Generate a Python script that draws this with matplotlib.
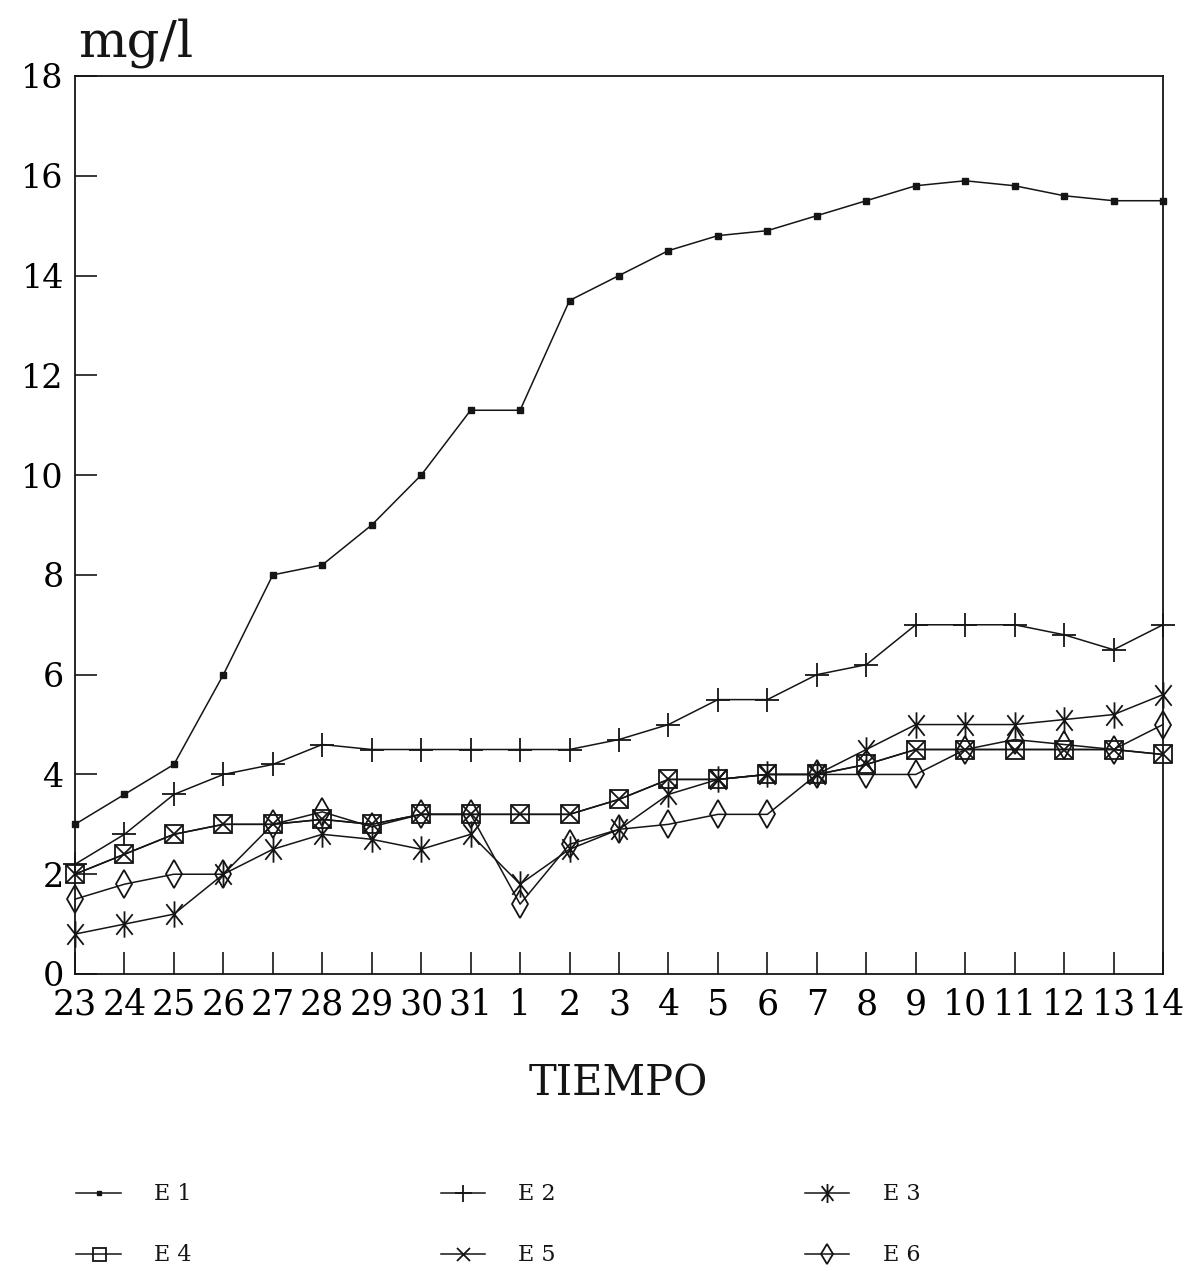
import matplotlib
matplotlib.use("Agg")
import matplotlib.pyplot as plt
from matplotlib.path import Path

categories = ['23', '24', '25', '26', '27', '28', '29', '30', '31', '1', '2', '3',
              '4', '5', '6', '7', '8', '9', '10', '11', '12', '13', '14']

E1 = [3.0, 3.6, 4.2, 6.0, 8.0, 8.2, 9.0, 10.0, 11.3, 11.3, 13.5, 14.0, 14.5,
      14.8, 14.9, 15.2, 15.5, 15.8, 15.9, 15.8, 15.6, 15.5, 15.5]
E2 = [2.2, 2.8, 3.6, 4.0, 4.2, 4.6, 4.5, 4.5, 4.5, 4.5, 4.5, 4.7, 5.0,
      5.5, 5.5, 6.0, 6.2, 7.0, 7.0, 7.0, 6.8, 6.5, 7.0]
E3 = [0.8, 1.0, 1.2, 2.0, 2.5, 2.8, 2.7, 2.5, 2.8, 1.8, 2.5, 2.9, 3.6,
      3.9, 4.0, 4.0, 4.5, 5.0, 5.0, 5.0, 5.1, 5.2, 5.6]
E4 = [2.0, 2.4, 2.8, 3.0, 3.0, 3.1, 3.0, 3.2, 3.2, 3.2, 3.2, 3.5, 3.9,
      3.9, 4.0, 4.0, 4.2, 4.5, 4.5, 4.5, 4.5, 4.5, 4.4]
E5 = [2.0, 2.4, 2.8, 3.0, 3.0, 3.1, 3.0, 3.2, 3.2, 3.2, 3.2, 3.5, 3.9,
      3.9, 4.0, 4.0, 4.2, 4.5, 4.5, 4.5, 4.5, 4.5, 4.4]
E6 = [1.5, 1.8, 2.0, 2.0, 3.0, 3.25, 2.95, 3.2, 3.2, 1.4, 2.6, 2.9, 3.0,
      3.2, 3.2, 4.0, 4.0, 4.0, 4.5, 4.7, 4.6, 4.5, 5.0]

series_labels = ['E 1', 'E 2', 'E 3', 'E 4', 'E 5', 'E 6']
yticks = [0, 2, 4, 6, 8, 10, 12, 14, 16, 18]

serif = ['DejaVu Serif']
ink = '#151515'

# asterisk marker: vertical stroke plus a narrow X
ast = Path([(0, -1), (0, 1), (-0.62, -0.78), (0.62, 0.78), (-0.62, 0.78), (0.62, -0.78)],
           [Path.MOVETO, Path.LINETO, Path.MOVETO, Path.LINETO, Path.MOVETO, Path.LINETO])

styles = [
    dict(marker='s', ms=4.5, mfc=ink, mec=ink),
    dict(marker='+', ms=17, mew=1.3),
    dict(marker=ast, ms=19, mfc='none', mew=1.3),
    dict(marker='s', ms=13, mfc='none', mew=1.3),
    dict(marker='x', ms=13, mew=1.3),
    dict(marker='d', ms=14, mfc='none', mew=1.3),
]

fig = plt.figure(figsize=(11.88, 12.71), dpi=100)
ax = fig.add_axes([75 / 1188, 1 - 974 / 1271, (1163 - 75) / 1188, (974 - 76) / 1271])

x = list(range(len(categories)))
all_series = [E1, E2, E3, E4, E5, E6]
handles = []
for s, lab, st in zip(all_series, series_labels, styles):
    h, = ax.plot(x, s, color=ink, lw=1.1, label=lab, clip_on=False, **st)
    handles.append(h)

ax.set_xlim(0, len(categories) - 1)
ax.set_ylim(0, 18)
ax.set_xticks(x)
ax.set_xticklabels(categories, fontsize=25, family=serif)
ax.set_yticks(yticks)
ax.set_yticklabels([str(v) for v in yticks], fontsize=24, family=serif)
ax.tick_params(axis='both', direction='in', length=16, width=1.2, color=ink,
               top=False, right=False, pad=8)
ax.tick_params(axis='x', pad=10)
for sp in ax.spines.values():
    sp.set_color(ink)
    sp.set_linewidth(1.3)

fig.text(78 / 1188, 1 - 43 / 1271, 'mg/l', fontsize=37, family=serif,
         ha='left', va='center', color=ink)
fig.text(618 / 1188, 1 - 1083 / 1271, 'TIEMPO', fontsize=30, family=serif,
         ha='center', va='center', color=ink)

order = [0, 3, 1, 4, 2, 5]
leg = fig.legend([handles[i] for i in order], [series_labels[i] for i in order],
                 ncol=3, loc='upper left', bbox_to_anchor=(72 / 1188, 1 - 1179 / 1271),
                 frameon=False, prop={'family': serif, 'size': 16},
                 handlelength=2.0, handletextpad=1.5, columnspacing=11.2,
                 labelspacing=1.75, markerscale=0.72, borderaxespad=0, borderpad=0.2)
for t in leg.get_texts():
    t.set_color(ink)

fig.savefig('out.png', dpi=100, facecolor='white')
